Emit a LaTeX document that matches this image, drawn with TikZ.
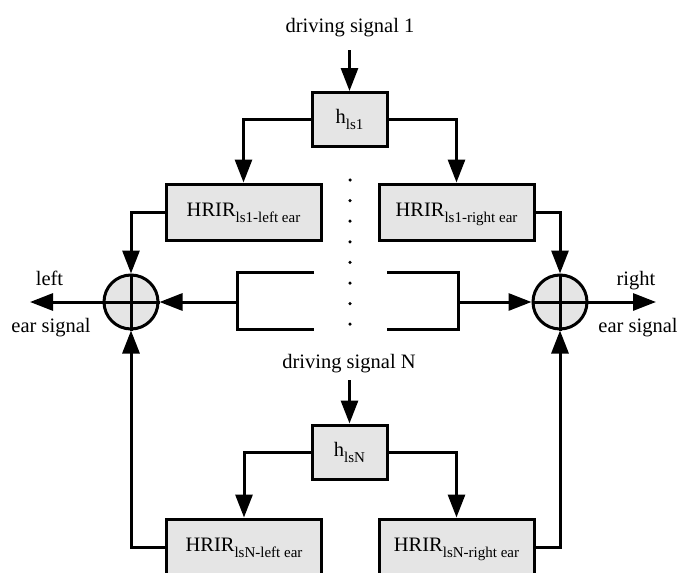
\documentclass[tikz,border=0pt]{standalone}
\usepackage{fontspec}
\setmainfont{Liberation Serif}
\usetikzlibrary{arrows.meta}
\newcommand{\subtxt}[1]{\raisebox{-6pt}{\fontsize{15}{17}\selectfont #1}}
\begin{document}
\begin{tikzpicture}[x=1pt,y=-1pt,
  line width=3pt,
  font=\fontsize{20.5}{24}\selectfont,
  blk/.style={draw, fill=black!10, inner sep=0pt, text height=14pt, text depth=6pt},
  hbox/.style={blk, minimum width=75pt, minimum height=54pt},
  hrbox/.style={blk, minimum width=155pt, minimum height=56pt},
  sumnode/.style={draw, circle, fill=black!10, minimum size=54pt, inner sep=0pt},
  arr/.style={-{Triangle[length=23pt,width=17pt]}},
  lbl/.style={anchor=base, inner sep=0pt},
  dotmark/.style={fill, circle, minimum size=3.5pt, inner sep=0pt, draw=none}
]
\useasboundingbox (0,0) rectangle (678,573);
\clip (0,0) rectangle (678,573);

% top branch
\node[lbl] (d1) at (350,32) {driving signal 1};
\coordinate (d1s) at (349.5,50);
\node[hbox] (h1) at (349.5,119.5) {h\subtxt{ls1}};
\node[hrbox] (hl1) at (243.5,212) {HRIR\subtxt{ls1-left ear}};
\node[hrbox] (hr1) at (456.5,212) {HRIR\subtxt{ls1-right ear}};

% summing nodes
\node[sumnode] (sl) at (131,302) {};
\node[sumnode] (sr) at (560,302) {};
\draw (sl.north) -- (sl.south) (sl.west) -- (sl.east);
\draw (sr.north) -- (sr.south) (sr.west) -- (sr.east);

\draw[arr] (d1s) -- (h1.north);
\draw[arr] (h1.west) -| (hl1.north);
\draw[arr] (h1.east) -| (hr1.north);
\draw[arr] (hl1.west) -| (sl.north);
\draw[arr] (hr1.east) -| (sr.north);

% brackets
\coordinate (bl1) at (314,272);
\coordinate (bl2) at (237,272);
\coordinate (bl3) at (237,329);
\coordinate (bl4) at (314,329);
\coordinate (blm) at (237,302);
\draw (bl1) -- (bl2) -- (bl3) -- (bl4);
\draw[arr] (blm) -- (sl.east);
\coordinate (br1) at (387,272);
\coordinate (br2) at (458,272);
\coordinate (br3) at (458,329);
\coordinate (br4) at (387,329);
\coordinate (brm) at (458,302);
\draw (br1) -- (br2) -- (br3) -- (br4);
\draw[arr] (brm) -- (sr.west);

% outputs
\coordinate (lo) at (30,302);
\coordinate (ro) at (656,302);
\draw[arr] (sl.west) -- (lo);
\draw[arr] (sr.east) -- (ro);
\node[lbl] (ltxt1) at (49.5,285) {left};
\node[lbl] (ltxt2) at (51,332) {ear signal};
\node[lbl] (rtxt1) at (636,285) {right};
\node[lbl] (rtxt2) at (638,332) {ear signal};

% dots
\foreach \i in {0,...,7} \node[dotmark] (dot\i) at (350,{180+20.6*\i}) {};

% bottom branch
\node[lbl] (dN) at (349,368) {driving signal N};
\coordinate (dNs) at (349.5,380);
\node[hbox] (hN) at (349.5,452) {h\subtxt{lsN}};
\node[hrbox] (hlN) at (244,547) {HRIR\subtxt{lsN-left ear}};
\node[hrbox] (hrN) at (456.5,547) {HRIR\subtxt{lsN-right ear}};
\draw[arr] (dNs) -- (hN.north);
\draw[arr] (hN.west) -| (hlN.north);
\draw[arr] (hN.east) -| (hrN.north);
\draw[arr] (hlN.west) -| (sl.south);
\draw[arr] (hrN.east) -| (sr.south);
\end{tikzpicture}
\end{document}
